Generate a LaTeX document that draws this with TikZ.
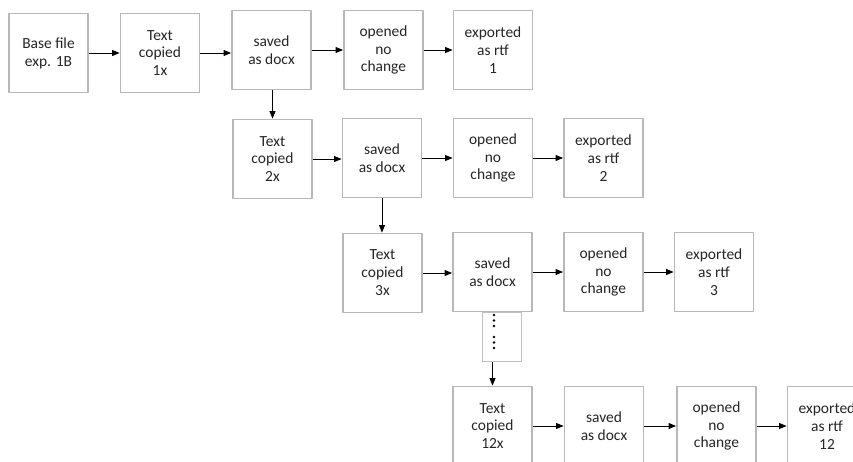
\documentclass[tikz,border=0pt]{standalone}
\usepackage{fontspec}
\setmainfont{Carlito}
\usetikzlibrary{arrows.meta}
\begin{document}
\begin{tikzpicture}[
				x=0.02cm,y=-0.02cm,line join = round,>={Triangle[length=4.3pt,width=3.4pt]},
				font=\fontsize{8.8}{10.2}\selectfont,
				stufe/.style={rectangle,draw = black!28,line width=1pt,fill = white,text = black!85,align = center,inner sep = 0pt, minimum width=79*0.02cm, minimum height=79*0.02cm},
				punkte/.style={rectangle,draw = black!25,line width=0.5pt,anchor = north west,inner sep = 0pt, minimum width=39*0.02cm, minimum height=49*0.02cm},
				pfeil/.style={->,black,line width=0.5pt}]
				\clip (0,0) rectangle (853,461);
				\fill[white] (0,0) rectangle (853,461);
				% row 1
				\node at (48.5,53) (nodeB) [stufe] {Base file\\exp. 1B};
				\node at (160,53) (nodeT1) [stufe] {Text\\copied\\1x};
				\node at (271.5,50) (nodeS1) [stufe] {saved\\as docx};
				\node at (383.5,50) (nodeO1) [stufe] {opened\\no\\change};
				\node at (493,50) (nodeE1) [stufe] {exported\\as rtf\\1};
				% row 2
				\node at (272.5,159) (nodeT2) [stufe] {Text\\copied\\2x};
				\node at (382,158) (nodeS2) [stufe] {saved\\as docx};
				\node at (493,158) (nodeO2) [stufe] {opened\\no\\change};
				\node at (603.5,158) (nodeE2) [stufe] {exported\\as rtf\\2};
				% row 3
				\node at (382.5,273) (nodeT3) [stufe] {Text\\copied\\3x};
				\node at (492.5,272) (nodeS3) [stufe] {saved\\as docx};
				\node at (603.5,272) (nodeO3) [stufe] {opened\\no\\change};
				\node at (714,272) (nodeE3) [stufe] {exported\\as rtf\\3};
				% dots
				\node at (482,312) (nodeP) [punkte] {};
				\foreach \y in {315,320.5,326,337,342.5,348}
					\fill[black] (494,\y) circle (1.3);
				% row 4
				\node at (492.5,426) (nodeT4) [stufe] {Text\\copied\\12x};
				\node at (604,426) (nodeS4) [stufe] {saved\\as docx};
				\node at (716.5,426) (nodeO4) [stufe] {opened\\no\\change};
				\node at (827,426) (nodeE4) [stufe] {exported\\as rtf\\12};
				% arrows
				\draw[pfeil] (nodeB) -- (nodeT1);
				\draw[pfeil] (nodeT1.east) -- (nodeS1.west |- nodeT1.east);
				\draw[pfeil] (nodeS1) -- (nodeO1);
				\draw[pfeil] (nodeO1) -- (nodeE1);
				\draw[pfeil] (nodeS1.south) -- (nodeS1.south -| nodeT2.north) -- (nodeT2.north);
				\draw[pfeil] (nodeT2.east) -- (nodeS2.west |- nodeT2.east);
				\draw[pfeil] (nodeS2) -- (nodeO2);
				\draw[pfeil] (nodeO2) -- (nodeE2);
				\draw[pfeil] (nodeS2.south) -- (nodeT3.north -| nodeS2.south);
				\draw[pfeil] (nodeT3.east) -- (nodeS3.west |- nodeT3.east);
				\draw[pfeil] (nodeS3) -- (nodeO3);
				\draw[pfeil] (nodeO3) -- (nodeE3);
				\draw[pfeil] (nodeT4.north |- nodeP.south) -- (nodeT4.north);
				\draw[pfeil] (nodeT4) -- (nodeS4);
				\draw[pfeil] (nodeS4) -- (nodeO4);
				\draw[pfeil] (nodeO4) -- (nodeE4);
			\end{tikzpicture}
\end{document}
